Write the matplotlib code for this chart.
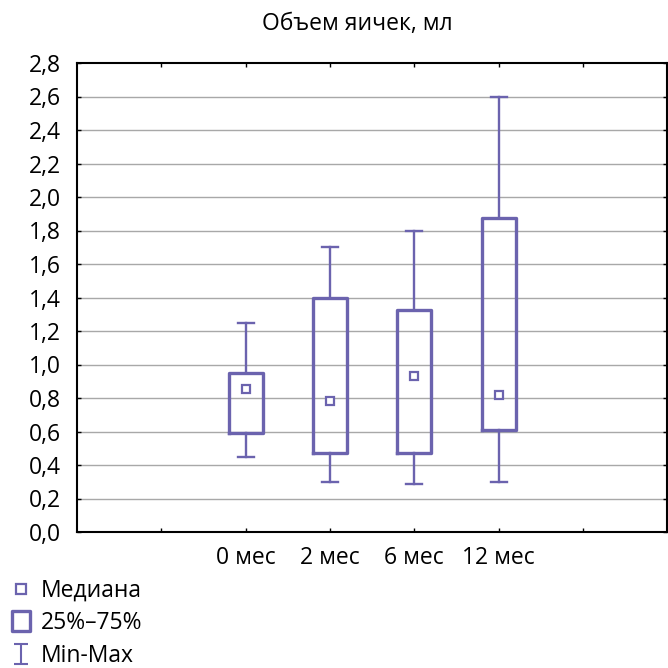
#!/usr/bin/env python
"""
Box plot of testicle volume (min-max whiskers, 25-75% box, median marker)
"""

import matplotlib
matplotlib.use("Agg")
import matplotlib.pyplot as plt
from matplotlib.lines import Line2D
from matplotlib.path import Path
from matplotlib.ticker import FuncFormatter

plt.rcParams["font.family"] = ["Open Sans", "DejaVu Sans"]

# Data
categories = ["0 мес", "2 мес", "6 мес", "12 мес"]
medians = [0.855, 0.78, 0.93, 0.82]
q1 = [0.59, 0.47, 0.47, 0.61]
q3 = [0.95, 1.40, 1.325, 1.875]
mins = [0.45, 0.30, 0.285, 0.30]
maxs = [1.25, 1.70, 1.80, 2.60]
positions = [2, 3, 4, 5]

COLOR = "#6b63ae"
TITLE = "Объем яичек, мл"
legend_labels = ["Медиана", "25%–75%", "Min-Max"]
FONT_SIZE = 16.5


def make_stats():
    """
    Build stats dicts for ax.bxp
    """
    stats = []
    for i in range(len(categories)):
        stats.append({"med": medians[i], "q1": q1[i], "q3": q3[i],
                      "whislo": mins[i], "whishi": maxs[i], "fliers": [],
                      "label": categories[i]})
    return stats


fig = plt.figure(figsize=(6.68, 6.68), dpi=100)
ax = fig.add_axes([77 / 668, 1 - 532 / 668, 1 - 77 / 668 - 0.001, (532 - 63) / 668])

ax.bxp(make_stats(), positions=positions, widths=0.4, capwidths=0.19,
       showfliers=False,
       boxprops={"color": COLOR, "linewidth": 2.4},
       whiskerprops={"color": COLOR, "linewidth": 1.7},
       capprops={"color": COLOR, "linewidth": 1.7},
       medianprops={"linewidth": 0}, zorder=3)

# Median markers
ax.plot(positions, medians, linestyle="none", marker="s", markersize=6,
        markerfacecolor="white", markeredgecolor=COLOR, markeredgewidth=1.6,
        zorder=4)

ax.set_xlim(0, 7)
ax.set_ylim(0, 2.8)
ax.set_yticks([i * 0.2 for i in range(15)])
ax.yaxis.set_major_formatter(FuncFormatter(lambda v, p: f"{v:.1f}".replace(".", ",")))
ax.set_xticks(range(1, 7))
ax.set_xticklabels(["", "0 мес", "2 мес", "6 мес", "12 мес", ""])
ax.tick_params(direction="in", length=3, width=1, labelsize=FONT_SIZE,
               top=True, right=True)
ax.tick_params(axis="x", pad=10)
ax.tick_params(axis="y", pad=11.5)

for y in ax.get_yticks()[1:-1]:
    ax.axhline(y, color="#a8a8a8", linewidth=1, zorder=1)

for side in ["left", "bottom", "top", "right"]:
    ax.spines[side].set_linewidth(1.5)

fig.text(357 / 668, 1 - 24 / 668, TITLE, ha="center", va="center",
         fontsize=FONT_SIZE)

# Legend with custom markers
minmax_marker = Path([(-0.75, 1), (0.75, 1), (0, 1), (0, -1), (-0.75, -1), (0.75, -1)],
                     [Path.MOVETO, Path.LINETO, Path.MOVETO, Path.LINETO,
                      Path.MOVETO, Path.LINETO])
box_marker = Path([(-0.85, -1), (0.85, -1), (0.85, 1), (-0.85, 1), (-0.85, -1)],
                  [Path.MOVETO, Path.LINETO, Path.LINETO, Path.LINETO,
                   Path.CLOSEPOLY])
handles = [
    Line2D([], [], linestyle="none", marker="s", markersize=6.5,
           markerfacecolor="white", markeredgecolor=COLOR, markeredgewidth=1.6),
    Line2D([], [], linestyle="none", marker=box_marker, markersize=14.5,
           markerfacecolor="white", markeredgecolor=COLOR, markeredgewidth=2.4),
    Line2D([], [], linestyle="none", marker=minmax_marker, markersize=14,
           markerfacecolor="none", markeredgecolor=COLOR, markeredgewidth=1.5),
]
fig.legend(handles, legend_labels, loc="upper left",
           bbox_to_anchor=(-0.010, 1 - 563 / 668), frameon=False,
           fontsize=FONT_SIZE, handlelength=1.0, handletextpad=0.38,
           labelspacing=0.36, borderpad=0.2)

fig.savefig("out.png", dpi=100)
